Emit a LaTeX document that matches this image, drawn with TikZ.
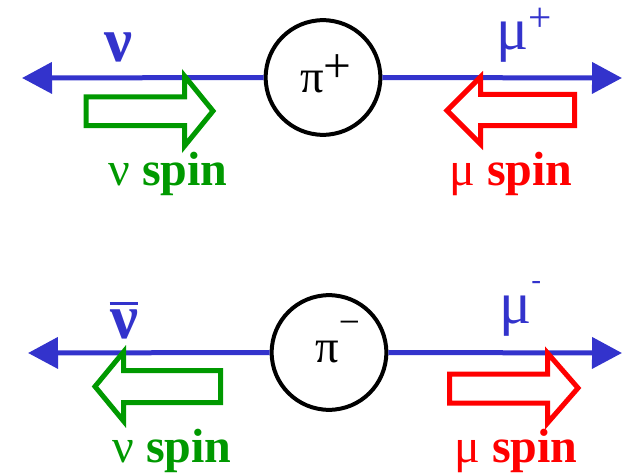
\documentclass[tikz,border=0pt]{standalone}
\usepackage{fontspec}
\setmainfont{Liberation Serif}
\usetikzlibrary{arrows.meta}
\definecolor{lblue}{RGB}{51,51,204}
\definecolor{lgreen}{RGB}{0,153,0}
\definecolor{lred}{RGB}{255,0,0}
\tikzset{
  axis/.style={draw=lblue, line width=3.75pt, -{Triangle[length=22.5pt,width=23pt]}},
  pion/.style={circle, draw=black, line width=3pt, minimum size=86pt, inner sep=0pt},
  spinarrow/.style={line width=3.75pt, line join=miter},
  nutxt/.style={font=\fontsize{47}{47}\selectfont\bfseries, inner sep=0pt, anchor=base},
  mutxt/.style={font=\fontsize{45}{45}\selectfont, inner sep=0pt, anchor=base west},
  midtxt/.style={font=\fontsize{35}{35}\selectfont, inner sep=0pt, anchor=base},
  spintxt/.style={font=\fontsize{36}{36}\selectfont, inner sep=0pt, anchor=base},
}
\begin{document}
\begin{tikzpicture}[x=0.75pt,y=-0.75pt]
\useasboundingbox (0,0) rectangle (623,474);
% ---------- top: pi+ ----------
\node[pion] (pip) at (323,77.5) {};
\coordinate (nuendA) at (22,78);
\coordinate (muendA) at (622,78);
\draw[axis] (pip.west) -- (nuendA);
\draw[axis] (pip.east) -- (muendA);
\node[midtxt, anchor=base west] (piplabel) at (300,93) {π\raisebox{8pt}{\fontsize{37}{37}\selectfont +}};
\node[nutxt, text=lblue] (nuA) at (118,62) {ν};
\node[mutxt, text=lblue] (muA) at (496,50) {μ\raisebox{14pt}{\fontsize{31}{31}\selectfont +}};
% green spin arrow (right)
\draw[spinarrow, lgreen] (86,97) -- (184.5,97) -- (184.5,76) -- (213,111) -- (184.5,146) -- (184.5,125.5) -- (86,125.5) -- cycle;
% red spin arrow (left)
\draw[spinarrow, lred] (574.5,94.5) -- (480.5,94.5) -- (480.5,77) -- (447,110.5) -- (480.5,144) -- (480.5,125.5) -- (574.5,125.5) -- cycle;
\node[spintxt, text=lgreen] (nuspinA) at (168,185) {ν \textbf{spin}};
\node[spintxt, text=lred] (muspinA) at (511,185) {μ \textbf{spin}};
% ---------- bottom: pi- ----------
\node[pion] (pim) at (329,352.5) {};
\coordinate (nuendB) at (28,353);
\coordinate (muendB) at (622,353);
\draw[axis] (pim.west) -- (nuendB);
\draw[axis] (pim.east) -- (muendB);
\node[midtxt, anchor=base west] (pimlabel) at (315,362) {π\raisebox{21pt}{\fontsize{28}{28}\selectfont −}};
\node[nutxt, text=lblue] (nuB) at (124,338) {ν};
\draw[lblue, line width=2.2pt] ([yshift=4pt]nuB.north west) -- ([yshift=4pt]nuB.north east);
\node[mutxt, text=lblue] (muB) at (499,323) {μ\raisebox{25pt}{\fontsize{22}{22}\selectfont -}};
% green spin arrow (left)
\draw[spinarrow, lgreen] (220.5,370.5) -- (123.5,370.5) -- (123.5,352) -- (95,386.5) -- (123.5,421) -- (123.5,402.5) -- (220.5,402.5) -- cycle;
% red spin arrow (right)
\draw[spinarrow, lred] (449.5,374) -- (547.5,374) -- (547.5,353) -- (578,388) -- (547.5,423) -- (547.5,403) -- (449.5,403) -- cycle;
\node[spintxt, text=lgreen] (nuspinB) at (172,462) {ν \textbf{spin}};
\node[spintxt, text=lred] (muspinB) at (516,462) {μ \textbf{spin}};
\end{tikzpicture}
\end{document}
